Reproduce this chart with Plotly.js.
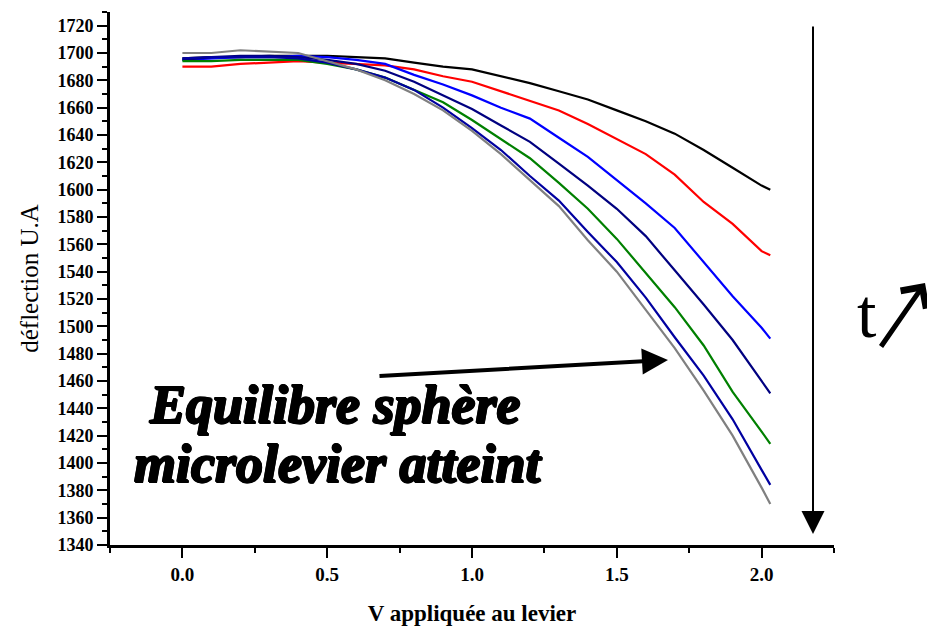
<!DOCTYPE html>
<html>
<head>
<meta charset="utf-8">
<script src="https://cdn.plot.ly/plotly-3.0.1.min.js"></script>
<style>
  html, body { margin: 0; padding: 0; background: #ffffff; }
  #chart { width: 927px; height: 626px; }
</style>
</head>
<body>
<div id="chart"></div>
<script>
// Applied voltage (x)
const voltage = [0, 0.1, 0.2, 0.3, 0.4, 0.5, 0.6, 0.7, 0.8, 0.9, 1.0,
                 1.1, 1.2, 1.3, 1.4, 1.5, 1.6, 1.7, 1.8, 1.9, 2.0, 2.03];

// Deflection curves (U.A), one per time step
const deflBlack = [1696, 1697, 1697, 1698, 1698, 1698, 1697, 1696, 1693, 1690, 1688,
                   1683, 1678, 1672, 1666, 1658, 1650, 1641, 1629, 1616, 1603, 1600];
const deflRed   = [1690, 1690, 1692, 1693, 1694, 1693, 1692, 1691, 1688, 1683, 1679,
                   1672, 1665, 1658, 1648, 1637, 1626, 1611, 1591, 1575, 1555, 1552];
const deflBlue  = [1695, 1696, 1697, 1697, 1698, 1697, 1695, 1692, 1684, 1677, 1669,
                   1660, 1652, 1638, 1624, 1607, 1590, 1572, 1547, 1522, 1499, 1491];
const deflNavy  = [1695, 1697, 1698, 1698, 1697, 1695, 1692, 1687, 1679, 1669, 1659,
                   1647, 1635, 1619, 1603, 1586, 1566, 1541, 1516, 1490, 1460, 1451];
const deflGreen = [1694, 1694, 1695, 1695, 1695, 1692, 1688, 1682, 1673, 1664, 1651,
                   1637, 1623, 1605, 1586, 1564, 1539, 1514, 1486, 1452, 1423, 1414];
const deflRoyal = [1696, 1697, 1697, 1697, 1696, 1693, 1688, 1682, 1673, 1660, 1645,
                   1629, 1610, 1592, 1569, 1547, 1521, 1492, 1464, 1432, 1395, 1384];
const deflGray  = [1700, 1700, 1702, 1701, 1700, 1694, 1688, 1680, 1670, 1658, 1643,
                   1626, 1607, 1588, 1563, 1540, 1512, 1484, 1453, 1420, 1382, 1370];

const seriesList = [deflBlack, deflRed, deflBlue, deflNavy, deflGreen, deflRoyal, deflGray];
const seriesColors = ['#000000', '#ff0000', '#0000ff', '#000080', '#008000', '#0000a0', '#808080'];

// Axis ticks
const xTickVals = [0, 0.5, 1.0, 1.5, 2.0];
const xTickText = ['0.0', '0.5', '1.0', '1.5', '2.0'];

const serif = 'Liberation Serif, Times New Roman, serif';
const heavyShadow = '1px 0 0 #000, -1px 0 0 #000, 0 1px 0 #000, 0 -1px 0 #000, 1px 1px 0 #000, -1px -1px 0 #000';

const traces = seriesList.map((ys, i) => ({
  x: voltage,
  y: ys,
  type: 'scatter',
  mode: 'lines',
  line: { color: seriesColors[i], width: 2.2 },
  showlegend: false,
  hoverinfo: 'skip'
}));

const bigFont = { family: serif, size: 54, color: '#000', weight: 'bold', style: 'italic', shadow: heavyShadow };

const layout = {
  width: 927,
  height: 626,
  margin: { l: 110, r: 93, t: 12, b: 81 },
  paper_bgcolor: '#ffffff',
  plot_bgcolor: '#ffffff',
  showlegend: false,
  xaxis: {
    range: [-0.25, 2.25],
    tickvals: xTickVals,
    ticktext: xTickText,
    ticks: 'outside',
    ticklen: 10,
    tickwidth: 2,
    tickcolor: '#000',
    minor: { tick0: -0.25, dtick: 0.25, ticks: 'outside', ticklen: 5, tickwidth: 2, tickcolor: '#000', showgrid: false },
    showline: true,
    linewidth: 3,
    linecolor: '#000',
    showgrid: false,
    zeroline: false,
    tickfont: { family: serif, size: 19, color: '#000', weight: 'bold' },
    title: { text: '<b>V appliquée au levier</b>', font: { family: serif, size: 23, color: '#000' }, standoff: 22 }
  },
  yaxis: {
    range: [1340, 1730],
    tick0: 1340,
    dtick: 20,
    ticks: 'outside',
    ticklen: 10,
    tickwidth: 2,
    tickcolor: '#000',
    minor: { dtick: 10, ticks: 'outside', ticklen: 5, tickwidth: 2, tickcolor: '#000', showgrid: false },
    showline: true,
    linewidth: 3,
    linecolor: '#000',
    showgrid: false,
    zeroline: false,
    tickfont: { family: serif, size: 18, color: '#000', weight: 'bold' },
    title: { text: 'déflection U.A', font: { family: serif, size: 25, color: '#000' }, standoff: 12 }
  },
  annotations: [
    {
      xref: 'paper', yref: 'paper', x: 0.311, y: 0.262,
      text: 'Equilibre sphère', showarrow: false,
      xanchor: 'center', yanchor: 'middle',
      font: bigFont
    },
    {
      xref: 'paper', yref: 'paper', x: 0.315, y: 0.152,
      text: 'microlevier atteint', showarrow: false,
      xanchor: 'center', yanchor: 'middle',
      font: bigFont
    },
    {
      // arrow pointing to the equilibrium curves
      xref: 'paper', yref: 'paper', x: 0.7707, y: 0.3471,
      text: '', showarrow: true,
      ax: -290, ay: 16, axref: 'pixel', ayref: 'pixel',
      arrowhead: 2, arrowsize: 1.3, arrowwidth: 4, arrowcolor: '#000'
    },
    {
      // long vertical arrow (time direction)
      xref: 'paper', yref: 'paper', x: 0.971, y: 0.0206,
      text: '', showarrow: true,
      ax: 0, ay: -509, axref: 'pixel', ayref: 'pixel',
      arrowhead: 2, arrowsize: 2.3, arrowwidth: 2, arrowcolor: '#000'
    },
    {
      xref: 'paper', yref: 'paper', x: 1.0456, y: 0.435,
      text: 't', showarrow: false,
      xanchor: 'center', yanchor: 'middle',
      font: { family: serif, size: 70, color: '#000' }
    },
    {
      // small diagonal arrow next to t
      xref: 'paper', yref: 'paper', x: 1.1257, y: 0.4916,
      text: '', showarrow: true,
      ax: -45, ay: 65, axref: 'pixel', ayref: 'pixel',
      arrowhead: 4, arrowsize: 1.2, arrowwidth: 5, arrowcolor: '#000'
    }
  ]
};

Plotly.newPlot('chart', traces, layout, { staticPlot: true, displayModeBar: false });
</script>
</body>
</html>
